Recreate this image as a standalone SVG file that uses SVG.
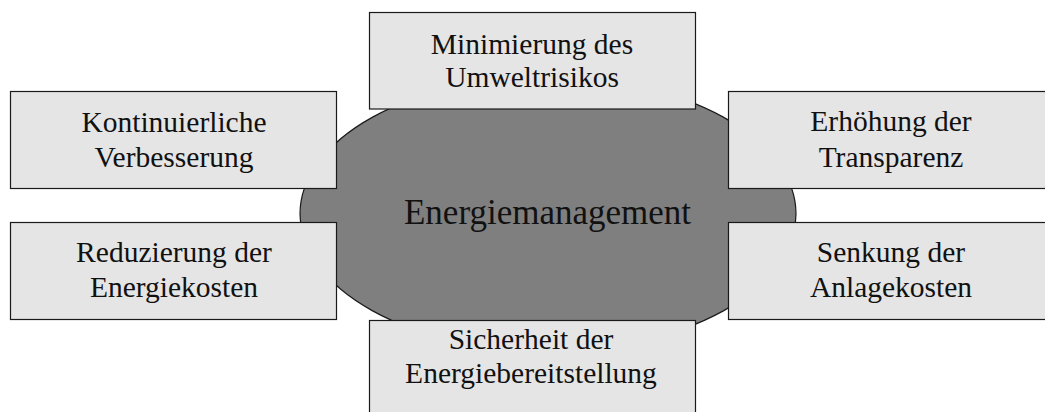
<svg xmlns="http://www.w3.org/2000/svg" width="1045" height="412" viewBox="0 0 1045 412">
  <style>
    .box { fill: #e5e5e5; stroke: #1a1a1a; stroke-width: 1.2; }
    .hub { fill: #7f7f7f; stroke: #1a1a1a; stroke-width: 1.2; }
    .lbl { font-family: "Liberation Serif", "DejaVu Serif", serif; font-size: 29.5px; fill: #111; text-anchor: middle; }
    .hubl { font-family: "Liberation Serif", "DejaVu Serif", serif; font-size: 35px; fill: #111; text-anchor: middle; }
  </style>
  <rect width="1045" height="412" fill="#ffffff"/>
  <g id="energiemanagement">
    <ellipse class="hub" cx="548" cy="214" rx="248" ry="137"/>
    <text class="hubl" x="547.5" y="224">Energiemanagement</text>
  </g>
  <g id="connectors"/>
  <g id="minimierung">
    <rect class="box" x="369.5" y="12.5" width="326" height="96.5"/>
    <text class="lbl" x="532" y="54">Minimierung des</text>
    <text class="lbl" x="532" y="86.5">Umweltrisikos</text>
  </g>
  <g id="kontinuierlich">
    <rect class="box" x="10.5" y="91.5" width="326" height="97"/>
    <text class="lbl" x="174" y="131.5">Kontinuierliche</text>
    <text class="lbl" x="174" y="166.5">Verbesserung</text>
  </g>
  <g id="reduzierung">
    <rect class="box" x="10.5" y="222.5" width="326" height="97"/>
    <text class="lbl" x="174" y="261.5">Reduzierung der</text>
    <text class="lbl" x="174" y="297">Energiekosten</text>
  </g>
  <g id="erhoehung">
    <rect class="box" x="728.5" y="91.5" width="326" height="97"/>
    <text class="lbl" x="891" y="131">Erhöhung der</text>
    <text class="lbl" x="891" y="166.5">Transparenz</text>
  </g>
  <g id="senkung">
    <rect class="box" x="728.5" y="222.5" width="326" height="97"/>
    <text class="lbl" x="891" y="261.5">Senkung der</text>
    <text class="lbl" x="891" y="297">Anlagekosten</text>
  </g>
  <g id="sicherheit">
    <rect class="box" x="369.5" y="320.5" width="326" height="100"/>
    <text class="lbl" x="531" y="349">Sicherheit der</text>
    <text class="lbl" x="531" y="382.5">Energiebereitstellung</text>
  </g>
</svg>
